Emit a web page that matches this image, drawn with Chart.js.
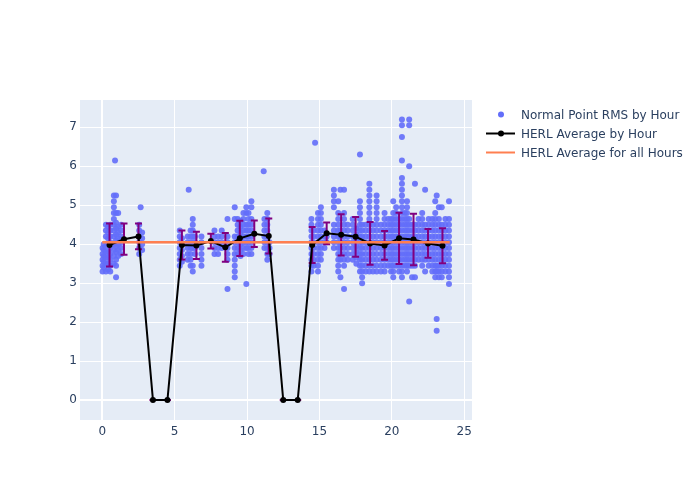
<!DOCTYPE html>
<html>
<head>
<meta charset="utf-8">
<script src="https://cdn.jsdelivr.net/npm/chart.js@4/dist/chart.umd.min.js"></script>
<style>
  html, body { margin: 0; padding: 0; background: #fff; }
  #wrap { position: relative; width: 700px; height: 500px; }
  #legend { position: absolute; left: 484px; top: 105px; font-family: "DejaVu Sans", sans-serif; font-size: 12px; color: #2a3f5f; }
  .item { height: 19px; display: flex; align-items: center; white-space: nowrap; }
  .item svg { width: 34px; height: 19px; margin-right: 3px; flex: none; }
</style>
</head>
<body>
<div id="wrap">
  <canvas id="rmsChart" width="700" height="500"></canvas>
  <div id="legend">
    <div class="item"><svg><circle cx="17" cy="9.5" r="3" fill="#636efa"/></svg>Normal Point RMS by Hour</div>
    <div class="item"><svg><line x1="2" y1="9.5" x2="31" y2="9.5" stroke="#000" stroke-width="2"/><circle cx="17" cy="9.5" r="3" fill="#000"/></svg>HERL Average by Hour</div>
    <div class="item"><svg><line x1="2" y1="9.5" x2="31" y2="9.5" stroke="#ff7f50" stroke-width="2"/></svg>HERL Average for all Hours</div>
  </div>
</div>
<script>
// normal point RMS values, one column per entry: [hour, rms, rms, ...]
const rmsColumns = [
  [0.02, 3.3, 3.45, 3.6, 3.75, 3.9],
  [0.1, 3.4, 3.55, 3.7, 3.85, 4.0],
  [0.25, 3.3, 3.5, 3.65, 3.8, 3.95, 4.2, 4.35, 4.5],
  [0.4, 3.35, 3.5, 3.65, 3.8, 4.0, 4.15, 4.3, 4.45],
  [0.55, 3.3, 3.45, 3.6, 3.75, 3.9, 4.05, 4.2, 4.35, 4.5],
  [0.8, 3.5, 3.7, 3.85, 4.0, 4.2, 4.35, 4.5, 4.65, 4.8, 4.95, 5.1, 5.25],
  [0.88, 6.15],
  [0.95, 3.15, 3.45, 3.6, 3.8, 3.95, 4.1, 4.25, 4.4, 4.55, 4.8, 5.25],
  [1.1, 3.7, 3.85, 4.0, 4.15, 4.3, 4.45, 4.8],
  [1.3, 3.75, 3.9, 4.05, 4.2, 4.35, 4.5],
  [2.55, 3.75, 3.9, 4.05, 4.2, 4.35, 4.5],
  [2.65, 4.95],
  [2.75, 3.85, 4.0, 4.15, 4.3],
  [5.35, 3.45, 3.6, 3.75, 3.9, 4.05, 4.2, 4.35],
  [5.5, 3.55, 3.7, 3.85, 4.0, 4.15],
  [5.97, 5.4],
  [5.9, 3.6, 3.75, 3.9, 4.05, 4.2],
  [6.1, 3.45, 3.6, 3.75, 3.9, 4.05, 4.2, 4.35],
  [6.25, 3.3, 3.45, 3.9, 4.05, 4.2, 4.35, 4.5, 4.65],
  [6.4, 3.75, 3.9, 4.05, 4.2],
  [6.85, 3.45, 3.6, 3.75, 3.9, 4.05, 4.2],
  [7.75, 3.75, 3.9, 4.05, 4.2, 4.35],
  [8.0, 3.75, 3.9, 4.05, 4.2],
  [8.25, 3.9, 4.05, 4.2, 4.35],
  [8.65, 2.85, 3.6, 3.75, 3.9, 4.05, 4.2, 4.65],
  [9.15, 3.15, 3.3, 3.45, 3.6, 3.75, 3.9, 4.05, 4.2, 4.65, 4.95],
  [9.35, 3.75, 3.9, 4.05, 4.2, 4.35, 4.5, 4.65],
  [9.55, 3.7, 3.85, 4.0, 4.15, 4.3, 4.45, 4.6],
  [9.75, 3.75, 3.9, 4.05, 4.2, 4.35, 4.5, 4.65, 4.8],
  [9.95, 2.98, 3.9, 4.05, 4.2, 4.35, 4.5, 4.8, 4.95],
  [10.1, 3.75, 3.9, 4.05, 4.2, 4.35, 4.5, 4.65, 4.8],
  [10.3, 3.75, 3.9, 4.05, 4.2, 4.35, 4.5, 4.65, 4.95, 5.1],
  [11.15, 5.87],
  [11.2, 3.9, 4.05, 4.2, 4.35, 4.5, 4.65],
  [11.4, 3.6, 3.75, 3.9, 4.05, 4.2, 4.35, 4.5, 4.65, 4.8],
  [11.55, 3.75, 3.9, 4.05],
  [14.45, 3.3, 3.45, 3.6, 3.75, 3.9, 4.05, 4.2, 4.35, 4.5, 4.65],
  [14.6, 3.45, 3.6, 3.75, 3.9, 4.05, 4.2, 4.35],
  [14.7, 6.6],
  [14.9, 3.3, 3.45, 3.6, 3.75, 3.9, 4.05, 4.2, 4.35, 4.5, 4.65, 4.8],
  [15.1, 3.6, 3.75, 3.9, 4.05, 4.2, 4.35, 4.5, 4.65, 4.8, 4.95],
  [15.35, 3.9, 4.05, 4.2, 4.35],
  [15.5, 4.05, 4.2],
  [16.0, 3.9, 4.05, 4.2, 4.35, 4.5, 4.95, 5.1, 5.25, 5.4],
  [16.3, 3.3, 3.45, 3.6, 3.75, 3.9, 4.05, 4.2, 4.35, 4.5, 4.65, 4.8, 5.1],
  [16.45, 3.15, 3.6, 3.75, 3.9, 4.05, 4.2, 4.35, 5.4],
  [16.7, 2.85, 3.45, 3.6, 3.75, 3.9, 4.05, 4.2, 4.35, 4.5, 4.65, 4.8, 5.4],
  [16.95, 3.6, 3.75, 3.9, 4.05, 4.2, 4.35, 4.5],
  [17.3, 3.6, 3.75, 3.9, 4.05, 4.2, 4.35, 4.5, 4.65],
  [17.55, 3.5, 3.65, 3.8, 3.95, 4.1, 4.25, 4.4],
  [17.8, 3.3, 3.45, 3.6, 3.75, 3.9, 4.05, 4.2, 4.35, 4.5, 4.65, 4.8, 4.95, 5.1, 6.3],
  [17.95, 3.0, 3.15, 3.3, 3.45, 3.6, 3.75, 3.9, 4.05, 4.2, 4.35, 4.5],
  [18.2, 3.3, 3.45, 3.6, 3.75, 3.9, 4.05, 4.2, 4.35, 4.5],
  [18.45, 3.3, 3.45, 3.6, 3.75, 3.9, 4.05, 4.2, 4.35, 4.5, 4.65, 4.8, 4.95, 5.1, 5.25, 5.4, 5.55],
  [18.7, 3.3, 3.45, 3.6, 3.75, 3.9, 4.05, 4.2, 4.35, 4.5],
  [18.95, 3.3, 3.45, 3.6, 3.75, 3.9, 4.05, 4.2, 4.35, 4.5, 4.65, 4.8, 4.95, 5.1, 5.25],
  [19.25, 3.3, 3.45, 3.6, 3.75, 3.9, 4.05, 4.2, 4.35, 4.5],
  [19.5, 3.3, 3.45, 3.6, 3.75, 3.9, 4.05, 4.2, 4.35, 4.5, 4.65, 4.8],
  [19.75, 3.45, 3.6, 3.75, 3.9, 4.05, 4.2, 4.35, 4.5, 4.65],
  [19.95, 3.3, 3.45, 3.6, 3.75, 3.9, 4.05, 4.2, 4.35, 4.5, 4.65],
  [20.1, 3.15, 3.3, 3.45, 3.6, 3.75, 3.9, 4.05, 4.2, 4.35, 4.5, 4.65, 4.8, 5.1],
  [20.3, 3.45, 3.6, 3.75, 3.9, 4.05, 4.2, 4.35, 4.5, 4.65, 4.8, 4.95],
  [20.5, 3.3, 3.45, 3.6, 3.75, 3.9, 4.05, 4.2, 4.35, 4.5, 4.65],
  [20.7, 3.15, 3.3, 3.45, 3.6, 3.75, 3.9, 4.05, 4.2, 4.35, 4.5, 4.65, 4.8, 4.95, 5.1, 5.25, 5.4, 5.55, 5.7, 6.15, 6.75, 7.05, 7.2],
  [20.9, 3.45, 3.6, 3.75, 3.9, 4.05, 4.2, 4.35, 4.5, 4.65, 4.8],
  [21.05, 3.3, 3.45, 3.6, 3.75, 3.9, 4.05, 4.2, 4.35, 4.5, 4.65, 4.8, 4.95, 5.1],
  [21.2, 2.53, 3.45, 3.6, 3.75, 3.9, 4.05, 4.2, 4.35, 4.5, 4.65, 6.0, 7.05, 7.2],
  [21.4, 3.15, 3.45, 3.6, 3.75, 3.9, 4.05, 4.2, 4.35, 4.5],
  [21.6, 3.15, 3.45, 3.6, 3.75, 3.9, 4.05, 4.2, 4.35, 4.5, 5.55],
  [21.85, 3.6, 3.75, 3.9, 4.05, 4.2, 4.35, 4.5, 4.65],
  [22.1, 3.45, 3.6, 3.75, 3.9, 4.05, 4.2, 4.35, 4.5, 4.65, 4.8],
  [22.3, 3.3, 3.6, 3.75, 3.9, 4.05, 4.2, 4.35, 4.5, 5.4],
  [22.55, 3.45, 3.6, 3.75, 3.9, 4.05, 4.2, 4.35, 4.5, 4.65],
  [22.8, 3.3, 3.45, 3.6, 3.75, 3.9, 4.05, 4.2, 4.35, 4.5, 4.65],
  [23.0, 3.15, 3.3, 3.45, 3.6, 3.75, 3.9, 4.05, 4.2, 4.35, 4.5, 4.65, 4.8, 5.1],
  [23.1, 1.78, 2.08, 3.3, 3.45, 5.25],
  [23.25, 3.15, 3.3, 3.45, 3.6, 3.75, 3.9, 4.05, 4.2, 4.35, 4.5, 4.65, 4.95],
  [23.45, 3.15, 3.3, 3.45, 3.6, 3.75, 3.9, 4.05, 4.2, 4.35, 4.5, 4.95],
  [23.7, 3.3, 3.45, 3.6, 3.75, 3.9, 4.05, 4.2, 4.35, 4.5, 4.65],
  [23.95, 2.98, 3.15, 3.3, 3.45, 3.6, 3.75, 3.9, 4.05, 4.2, 4.35, 4.5, 4.65, 5.1]
];

// HERL average per hour, with its spread
const avgHours = [0.5, 1.5, 2.5, 3.5, 4.5, 5.5, 6.5, 7.5, 8.5, 9.5, 10.5, 11.5,
                  12.5, 13.5, 14.5, 15.5, 16.5, 17.5, 18.5, 19.5, 20.5, 21.5, 22.5, 23.5];
const avgValues = [3.98, 4.13, 4.2, 0, 0, 3.98, 3.97, 4.08, 3.92, 4.15, 4.27, 4.21,
                   0, 0, 3.98, 4.28, 4.24, 4.19, 4.02, 3.97, 4.15, 4.12, 4.02, 3.96];
const avgErrors = [0.55, 0.4, 0.33, 0, 0, 0.37, 0.35, 0.19, 0.37, 0.45, 0.34, 0.45,
                   0, 0, 0.46, 0.28, 0.53, 0.51, 0.55, 0.37, 0.66, 0.66, 0.37, 0.45];

// overall average
const allHoursX = [0, 24];
const allHoursAvg = 4.05;

const yTicks = [0, 1, 2, 3, 4, 5, 6, 7];
const xTicks = [0, 5, 10, 15, 20, 25];

const rmsPoints = [];
rmsColumns.forEach(function(col) {
    for (let i = 1; i < col.length; i++) rmsPoints.push({ x: col[0], y: col[i] });
});
const avgPoints = avgHours.map(function(h, i) { return { x: h, y: avgValues[i] }; });
const allPoints = allHoursX.map(function(h) { return { x: h, y: allHoursAvg }; });

const plotBg = {
    id: 'plotBg',
    beforeDraw(chart) {
        const a = chart.chartArea, c = chart.ctx;
        c.save();
        c.fillStyle = '#e5ecf6';
        c.fillRect(a.left, a.top, a.right - a.left, a.bottom - a.top);
        c.restore();
    }
};

// purple error bars, drawn right after the scatter layer
const errorBars = {
    id: 'errorBars',
    afterDatasetDraw(chart, args) {
        if (args.index !== 0) return;
        const c = chart.ctx, xs = chart.scales.x, ys = chart.scales.y;
        c.save();
        c.strokeStyle = '#800080';
        c.lineWidth = 2;
        avgHours.forEach(function(h, i) {
            const px = xs.getPixelForValue(h);
            const top = ys.getPixelForValue(avgValues[i] + avgErrors[i]);
            const bot = ys.getPixelForValue(avgValues[i] - avgErrors[i]);
            c.beginPath();
            c.moveTo(px, top); c.lineTo(px, bot);
            c.moveTo(px - 3.5, top); c.lineTo(px + 3.5, top);
            c.moveTo(px - 3.5, bot); c.lineTo(px + 3.5, bot);
            c.stroke();
        });
        c.restore();
    }
};

const tickFont = { family: '"DejaVu Sans", sans-serif', size: 12 };

new Chart(document.getElementById('rmsChart').getContext('2d'), {
    type: 'scatter',
    data: {
        datasets: [{
            label: 'Normal Point RMS by Hour',
            data: rmsPoints,
            backgroundColor: 'rgba(99, 110, 250, 0.9)',
            borderWidth: 0,
            pointRadius: 3,
            order: 3
        }, {
            label: 'HERL Average by Hour',
            data: avgPoints,
            showLine: true,
            borderColor: '#000',
            backgroundColor: '#000',
            borderWidth: 2,
            pointRadius: 3,
            pointBorderWidth: 0,
            order: 2
        }, {
            label: 'HERL Average for all Hours',
            data: allPoints,
            showLine: true,
            borderColor: '#ff7f50',
            borderWidth: 2.5,
            pointRadius: 0,
            order: 1
        }]
    },
    options: {
        responsive: false,
        animation: false,
        layout: { padding: { left: 0, right: 228, top: 100, bottom: 0 } },
        scales: {
            x: {
                min: -1.54,
                max: 25.54,
                afterBuildTicks(scale) { scale.ticks = xTicks.map(function(v) { return { value: v }; }); },
                afterFit(scale) { scale.height = 80; },
                grid: {
                    color: '#fff',
                    lineWidth: function(ctx) { return ctx.tick && ctx.tick.value === 0 ? 2 : 1; },
                    drawTicks: false
                },
                border: { display: false },
                ticks: { color: '#2a3f5f', font: tickFont, padding: 5, maxRotation: 0 }
            },
            y: {
                min: -0.51,
                max: 7.7,
                afterBuildTicks(scale) { scale.ticks = yTicks.map(function(v) { return { value: v }; }); },
                afterFit(scale) { scale.width = 80; },
                grid: {
                    color: '#fff',
                    lineWidth: function(ctx) { return ctx.tick && ctx.tick.value === 0 ? 2 : 1; },
                    drawTicks: false
                },
                border: { display: false },
                ticks: { color: '#2a3f5f', font: tickFont, padding: 3 }
            }
        },
        plugins: {
            legend: { display: false },
            tooltip: { enabled: false }
        }
    },
    plugins: [plotBg, errorBars]
});
</script>
</body>
</html>
